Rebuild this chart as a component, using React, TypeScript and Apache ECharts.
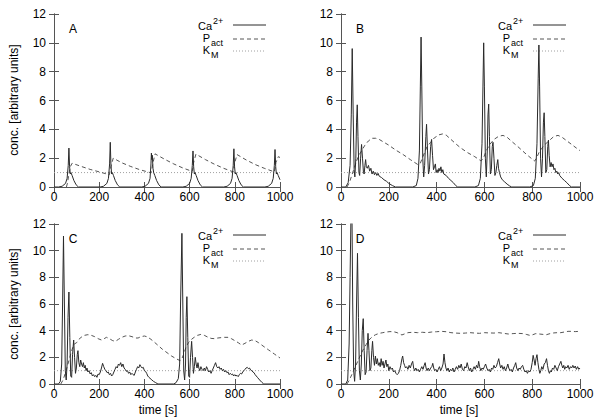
import React, { useEffect, useRef } from "react";
import * as echarts from "echarts";

const FONT = "Liberation Sans, Arial, Helvetica, sans-serif";

const xTicks = [0, 200, 400, 600, 800, 1000];
const yTicks = [0, 2, 4, 6, 8, 10, 12];
const panelNames = ["A", "B", "C", "D"];
const legendNames = ["Ca", "P", "K"];
const legendScripts = ["2+", "act", "M"];
const yAxisTitle = "conc. [arbitrary units]";
const xAxisTitle = "time [s]";

const kmLevel = [[0, 1], [1000, 1]];

const caA = [
  [0, 0], [20, 0], [36, 0.05], [51, 0.25], [58, 0.6], [63, 1.5], [66, 2.7], [69, 1.4], [72, 0.9], [75, 1.0], [80, 0.8], [88, 0.45], [98, 0.15], [108, 0],
  [204, 0], [219, 0.05], [234, 0.25], [241, 0.6], [246, 1.6], [249, 3.1], [252, 1.5], [255, 0.9], [258, 1.0], [263, 0.8], [271, 0.45], [281, 0.15], [291, 0],
  [388, 0], [403, 0.05], [418, 0.25], [425, 0.6], [429, 1.6], [431, 2.35], [433, 1.9], [435, 2.2], [438, 1.3], [441, 1.0], [446, 0.8], [454, 0.45], [464, 0.15], [474, 0],
  [570, 0], [585, 0.05], [600, 0.25], [607, 0.6], [612, 1.5], [615, 2.5], [618, 1.4], [621, 0.9], [624, 1.0], [629, 0.8], [637, 0.45], [647, 0.15], [657, 0],
  [751, 0], [766, 0.05], [781, 0.25], [788, 0.6], [793, 1.5], [796, 2.65], [799, 1.4], [802, 0.9], [805, 1.0], [810, 0.8], [818, 0.45], [828, 0.15], [838, 0],
  [933, 0], [948, 0.05], [963, 0.25], [970, 0.6], [975, 1.5], [978, 2.6], [981, 1.4], [984, 0.9], [987, 1.0], [992, 0.8], [1000, 0.5],
];
const pactA = [
  [55, 0], [60, 0.3], [66, 0.9], [72, 1.4], [80, 1.65], [120, 1.43], [160, 1.22], [200, 1.05], [245, 0.85],
  [252, 1.4], [262, 2.0], [300, 1.68], [340, 1.42], [380, 1.2], [430, 0.98],
  [437, 1.6], [447, 2.3], [490, 1.92], [530, 1.6], [570, 1.32], [612, 1.08],
  [618, 1.7], [628, 2.28], [670, 1.9], [710, 1.58], [750, 1.3], [793, 1.05],
  [800, 1.7], [810, 2.25], [850, 1.88], [890, 1.56], [930, 1.3], [975, 1.05],
  [982, 1.7], [992, 2.1], [1000, 2.05],
];

const caB = [
  [0, 0], [20, 0], [30, 0.3], [38, 1.5], [43, 5], [47, 9.6], [51, 5], [55, 1.2], [58, 0.7], [62, 2], [65, 4.5], [68, 5.7], [71, 3.5], [75, 1.0], [78, 0.8], [82, 2], [86, 2.95], [90, 2.0], [94, 1.0], [97, 0.9], [100, 1.5], [103, 1.9], [106, 1.4], [110, 1.3], [115, 1.5], [120, 1.1], [125, 1.3], [130, 0.9], [135, 1.1], [140, 0.85], [145, 1.0], [150, 0.8], [155, 0.95], [160, 0.75], [170, 0.65], [180, 0.5], [190, 0.4], [200, 0.25], [215, 0.1], [228, 0],
  [300, 0], [315, 0.1], [322, 0.6], [328, 2.5], [332, 7], [335, 10.4], [338, 7], [342, 2], [346, 0.7], [350, 1.5], [355, 3.5], [358, 4.35], [362, 2.5], [366, 0.9], [370, 1.2], [375, 2.8], [379, 3.3], [383, 2.2], [387, 1.2], [391, 1.4], [395, 1.6], [398, 1.0], [402, 1.2], [406, 1.0], [410, 1.3], [414, 1.1], [418, 1.4], [422, 1.0], [426, 1.2], [430, 0.9], [440, 0.8], [450, 0.6], [460, 0.45], [470, 0.3], [480, 0.1], [488, 0],
  [560, 0], [575, 0.1], [583, 0.6], [590, 3], [594, 7], [597, 10], [600, 7], [604, 2], [608, 0.7], [612, 2.5], [615, 5], [618, 5.75], [621, 3.5], [625, 0.9], [629, 1.2], [633, 2.8], [636, 3.1], [640, 2], [644, 0.8], [648, 1.0], [652, 1.5], [656, 1.9], [659, 1.3], [663, 1.0], [668, 0.7], [675, 0.5], [685, 0.35], [695, 0.2], [705, 0.08], [714, 0],
  [790, 0], [805, 0.1], [813, 0.6], [820, 3], [825, 7.5], [828, 9.85], [831, 7], [835, 2], [839, 0.7], [843, 2], [847, 4.5], [850, 5.15], [853, 3.5], [857, 1.0], [861, 1.2], [865, 2.8], [868, 3.25], [871, 2.2], [875, 1.4], [879, 1.7], [883, 1.4], [887, 1.6], [891, 1.2], [895, 1.3], [899, 1.0], [903, 1.1], [907, 0.9], [911, 1.0], [915, 0.8], [925, 0.6], [935, 0.45], [945, 0.3], [955, 0.12], [964, 0], [1000, 0],
];
const pactB = [
  [25, 0], [35, 0.3], [45, 0.8], [55, 1.3], [65, 1.8], [75, 2.2], [86, 2.5], [100, 2.9], [115, 3.2], [130, 3.38], [145, 3.38], [160, 3.3], [180, 3.1], [200, 2.9], [230, 2.55], [260, 2.25], [290, 1.9], [322, 1.55],
  [332, 1.65], [340, 2.0], [350, 2.4], [360, 2.8], [375, 3.1], [390, 3.4], [410, 3.62], [425, 3.68], [440, 3.6], [460, 3.3], [480, 3.0], [500, 2.72], [530, 2.38], [560, 2.1], [585, 1.82],
  [595, 1.95], [605, 2.4], [620, 2.9], [640, 3.3], [660, 3.52], [678, 3.58], [695, 3.45], [715, 3.15], [740, 2.8], [770, 2.35], [795, 2.0], [810, 1.8],
  [818, 2.0], [830, 2.45], [850, 2.9], [870, 3.2], [890, 3.5], [908, 3.58], [925, 3.45], [945, 3.2], [965, 2.95], [985, 2.7], [1000, 2.52],
];

const caC = [
  [0, 0], [20, 0], [28, 0.2], [34, 1.5], [38, 6], [42, 11.1], [46, 6], [50, 1], [54, 0.3], [58, 1.5], [62, 5], [66, 6.9], [70, 3.5], [74, 0.6], [78, 0.5], [82, 2.2], [87, 3.3], [91, 2], [95, 0.8], [99, 1.2], [103, 2.2], [106, 2.5], [110, 1.6], [114, 1.3], [118, 1.8], [122, 1.5], [126, 1.3], [130, 1.6], [134, 1.2], [138, 1.4], [142, 1.0], [146, 1.2], [150, 0.9], [155, 1.0], [160, 0.75], [165, 0.85], [170, 0.6], [175, 0.7], [180, 0.55], [185, 0.65], [190, 0.5], [195, 0.75], [200, 0.7], [205, 0.9], [210, 1.2], [215, 1.55], [220, 1.3], [225, 1.1], [230, 1.0], [235, 0.85], [240, 0.9], [245, 0.7], [250, 0.8], [255, 0.6], [260, 0.7], [265, 0.9], [270, 1.1], [275, 1.3], [280, 1.2], [285, 1.5], [290, 1.4], [295, 1.6], [300, 1.3], [305, 1.5], [310, 1.2], [315, 1.1], [320, 0.95], [325, 1.0], [330, 0.8], [335, 0.9], [340, 0.7], [345, 0.8], [350, 0.7], [355, 0.65], [360, 0.9], [365, 1.1], [370, 1.3], [375, 1.2], [380, 1.45], [385, 1.3], [390, 1.2], [395, 1.25], [400, 1.0], [405, 0.95], [410, 0.8], [415, 0.6], [420, 0.5], [430, 0.35], [440, 0.2], [450, 0.1], [460, 0],
  [530, 0], [540, 0.1], [550, 0.4], [556, 1.5], [560, 6], [566, 11.3], [570, 6], [574, 1], [578, 0.3], [582, 1.5], [585, 5], [588, 6.55], [592, 3.5], [596, 0.6], [600, 0.5], [604, 2], [609, 3.2], [613, 2], [617, 0.8], [621, 1.3], [625, 2.0], [629, 1.5], [633, 1.2], [637, 1.6], [641, 1.2], [645, 1.0], [650, 1.3], [655, 1.1], [660, 1.0], [665, 1.2], [670, 1.0], [675, 1.3], [680, 1.1], [685, 0.9], [690, 1.0], [695, 0.8], [700, 1.0], [705, 1.2], [710, 1.4], [715, 1.6], [720, 1.3], [725, 1.2], [730, 1.3], [735, 1.1], [740, 1.2], [745, 1.0], [750, 1.1], [755, 0.9], [760, 1.0], [765, 0.85], [770, 0.9], [775, 0.7], [780, 0.8], [785, 0.7], [790, 0.75], [795, 0.6], [800, 0.7], [805, 0.6], [810, 0.65], [815, 0.55], [820, 0.7], [825, 0.8], [830, 0.75], [835, 0.9], [840, 1.0], [845, 1.1], [850, 1.2], [855, 1.25], [860, 1.15], [865, 1.2], [870, 1.05], [875, 1.0], [880, 0.9], [885, 0.85], [890, 0.7], [895, 0.6], [900, 0.5], [910, 0.3], [920, 0.12], [928, 0], [1000, 0],
];
const pactC = [
  [30, 0], [40, 0.3], [50, 0.8], [60, 1.4], [70, 2.0], [80, 2.6], [90, 3.0], [100, 3.1], [110, 3.35], [120, 3.5], [135, 3.65], [150, 3.7], [165, 3.65], [180, 3.55], [195, 3.4], [210, 3.3], [222, 3.4], [232, 3.5], [245, 3.4], [260, 3.25], [272, 3.2], [285, 3.35], [300, 3.5], [315, 3.6], [330, 3.62], [345, 3.55], [360, 3.45], [372, 3.45], [385, 3.55], [400, 3.6], [410, 3.55], [425, 3.4], [440, 3.2], [460, 2.9], [480, 2.6], [500, 2.35], [520, 2.1], [540, 1.9], [558, 1.75],
  [565, 1.85], [575, 2.3], [585, 2.8], [595, 3.1], [605, 3.3], [620, 3.5], [635, 3.65], [650, 3.72], [665, 3.65], [680, 3.52], [695, 3.42], [710, 3.4], [725, 3.45], [740, 3.48], [755, 3.5], [770, 3.5], [785, 3.4], [800, 3.25], [815, 3.1], [830, 2.92], [845, 3.05], [860, 3.2], [875, 3.3], [890, 3.25], [905, 3.1], [925, 2.85], [950, 2.55], [975, 2.25], [1000, 1.95],
];

const caD = [
  [0, 0], [20, 0], [28, 0.3], [34, 3], [38, 8], [42, 13], [46, 12.5], [49, 6], [53, 1], [57, 0.2], [61, 1.5], [65, 6], [69, 9.8], [73, 5], [77, 1], [81, 0.3], [85, 1.5], [89, 4], [93, 4.9], [97, 2.5], [101, 0.7], [105, 0.9], [109, 2.5], [113, 3.8], [117, 2.5], [121, 1.0], [125, 1.2], [129, 2.5], [132, 3.2], [136, 2.0], [140, 1.4], [144, 2.1], [148, 1.5], [152, 1.9], [156, 1.4], [160, 1.6], [164, 1.3], [168, 1.9], [172, 1.4], [176, 1.7], [180, 1.2], [184, 1.5], [188, 1.8], [192, 1.3], [196, 1.5], [200, 1.0], [205, 1.3], [210, 1.1], [215, 1.2], [220, 0.9], [225, 1.0], [230, 0.8], [235, 0.7], [240, 0.8], [245, 1.0], [250, 1.4], [255, 1.9], [258, 2.1], [262, 1.6], [266, 1.4], [270, 1.2], [275, 1.3], [280, 1.1], [285, 1.4], [290, 1.2], [295, 1.5], [300, 1.7], [304, 1.2], [308, 1.0], [313, 1.2], [318, 1.0], [323, 1.1], [328, 0.9], [333, 1.1], [338, 1.3], [343, 1.1], [348, 1.4], [352, 1.6], [356, 1.2], [360, 1.0], [365, 1.2], [370, 1.0], [375, 1.2], [380, 1.3], [384, 1.55], [388, 1.2], [392, 1.0], [397, 1.1], [402, 0.9], [407, 1.1], [412, 1.3], [417, 1.0], [422, 1.2], [427, 1.5], [431, 2.25], [435, 1.6], [439, 1.2], [443, 1.0], [448, 1.2], [453, 0.9], [458, 1.1], [463, 1.0], [468, 1.2], [473, 0.9], [478, 1.1], [483, 1.3], [488, 1.1], [493, 1.4], [498, 1.2], [503, 1.5], [508, 1.1], [513, 1.0], [518, 1.3], [523, 1.2], [528, 1.6], [532, 1.3], [537, 1.0], [542, 1.2], [547, 0.9], [552, 1.1], [557, 1.3], [562, 1.1], [567, 1.4], [572, 1.2], [576, 1.7], [580, 1.3], [585, 1.0], [590, 1.2], [595, 1.1], [600, 1.3], [605, 1.5], [610, 1.2], [615, 1.0], [620, 1.1], [625, 0.9], [630, 1.2], [635, 1.1], [640, 1.4], [645, 1.2], [650, 1.3], [655, 1.6], [660, 1.9], [664, 1.5], [668, 1.2], [673, 1.4], [678, 1.1], [683, 1.3], [688, 1.0], [693, 1.2], [698, 1.5], [702, 1.2], [707, 1.0], [712, 1.1], [717, 0.9], [722, 1.2], [727, 1.4], [731, 1.6], [735, 1.2], [740, 1.0], [745, 1.2], [750, 1.1], [755, 1.3], [760, 1.4], [765, 1.1], [770, 0.9], [775, 1.0], [780, 0.8], [785, 1.0], [790, 0.9], [795, 1.1], [800, 1.6], [804, 2.15], [808, 1.8], [812, 1.4], [816, 1.9], [820, 2.2], [824, 1.6], [828, 1.1], [832, 0.8], [836, 1.0], [840, 1.3], [845, 1.1], [850, 1.5], [855, 1.6], [860, 1.9], [864, 1.4], [868, 1.0], [872, 0.8], [876, 1.0], [880, 0.9], [885, 1.2], [890, 1.1], [895, 1.4], [900, 1.2], [905, 1.0], [910, 1.3], [915, 1.5], [920, 1.7], [924, 1.4], [928, 1.2], [932, 1.4], [936, 1.1], [940, 1.3], [945, 1.2], [950, 1.4], [955, 1.1], [960, 1.3], [965, 1.2], [970, 1.4], [975, 1.2], [980, 1.35], [985, 1.1], [990, 1.3], [995, 1.1], [1000, 1.2],
];
const pactD = [
  [25, 0], [35, 0.3], [45, 0.7], [55, 1.1], [65, 1.5], [75, 1.9], [85, 2.3], [95, 2.65], [105, 2.95], [115, 3.25], [125, 3.45], [135, 3.6], [145, 3.7], [160, 3.8], [175, 3.85], [190, 3.9], [205, 3.93], [220, 3.92], [235, 3.85], [245, 3.75], [255, 3.68], [265, 3.75], [280, 3.85], [300, 3.88], [320, 3.85], [340, 3.88], [360, 3.85], [380, 3.9], [400, 3.92], [420, 3.95], [440, 3.92], [460, 3.85], [480, 3.82], [500, 3.8], [520, 3.82], [540, 3.85], [560, 3.82], [580, 3.8], [600, 3.85], [620, 3.83], [640, 3.82], [660, 3.85], [680, 3.8], [700, 3.75], [720, 3.78], [740, 3.8], [760, 3.78], [775, 3.72], [790, 3.65], [800, 3.68], [815, 3.78], [830, 3.75], [845, 3.72], [860, 3.7], [875, 3.78], [890, 3.83], [905, 3.85], [920, 3.85], [935, 3.9], [950, 3.95], [965, 3.95], [980, 3.93], [1000, 3.95],
];

const caSets = [caA, caB, caC, caD];
const pactSets = [pactA, pactB, pactC, pactD];

// layout (pixels)
const grids = [
  { left: 54, top: 14, width: 226, height: 173 },
  { left: 341, top: 14, width: 239, height: 173 },
  { left: 54, top: 224, width: 226, height: 160 },
  { left: 341, top: 224, width: 239, height: 160 },
];

const FRAME = "#555";
const CA_COLOR = "#2a2a2a";
const PACT_COLOR = "#555";
const KM_COLOR = "#a0a0a0";

function buildOption() {
  const xAxis: any[] = [];
  const yAxis: any[] = [];
  const series: any[] = [];
  const graphic: any[] = [];

  grids.forEach((g, i) => {
    const common = {
      gridIndex: i,
      type: "value",
      axisLine: { show: true, lineStyle: { color: FRAME, width: 1 } },
      axisTick: { show: true, inside: true, length: 5, lineStyle: { color: FRAME } },
      splitLine: { show: false },
    };
    xAxis.push({
      ...common, position: "bottom", min: xTicks[0], max: xTicks[xTicks.length - 1], interval: 200,
      axisLabel: { color: "#000", fontSize: 12, fontFamily: FONT, margin: 4, formatter: (v: number) => String(v) },
    });
    xAxis.push({
      ...common, position: "top", min: xTicks[0], max: xTicks[xTicks.length - 1], interval: 200,
      axisLabel: { show: false },
    });
    yAxis.push({
      ...common, position: "left", min: yTicks[0], max: yTicks[yTicks.length - 1], interval: 2,
      axisLabel: { color: "#000", fontSize: 12, fontFamily: FONT, margin: 8, formatter: (v: number) => String(v) },
    });
    yAxis.push({
      ...common, position: "right", min: yTicks[0], max: yTicks[yTicks.length - 1], interval: 2,
      axisLabel: { show: false },
    });

    const xi = i * 2;
    const yi = i * 2;
    series.push({
      type: "line", name: "Ca", xAxisIndex: xi, yAxisIndex: yi, data: caSets[i], showSymbol: false,
      lineStyle: { color: CA_COLOR, width: 1 }, clip: true, z: 3,
    });
    series.push({
      type: "line", name: "Pact", xAxisIndex: xi, yAxisIndex: yi, data: pactSets[i], showSymbol: false,
      lineStyle: { color: PACT_COLOR, width: 1, type: [4, 3] }, clip: true, z: 2,
    });
    series.push({
      type: "line", name: "KM", xAxisIndex: xi, yAxisIndex: yi, data: kmLevel, showSymbol: false,
      lineStyle: { color: KM_COLOR, width: 1, type: [1, 2] }, clip: true, z: 1,
    });

    const right = g.left + g.width;
    const top = g.top;
    // panel letter
    graphic.push({
      type: "text", x: g.left + 19, y: top + 15,
      style: { text: panelNames[i], fontSize: 12, fontFamily: FONT, fill: "#000", align: "center", verticalAlign: "middle" },
    });
    // legend
    const rows = [
      { dy: -5, ly: 11, dash: null as any, color: CA_COLOR, mainX: right - 68, subX: right - 67 },
      { dy: 5, ly: 25, dash: [4, 3], color: PACT_COLOR, mainX: right - 70, subX: right - 69 },
      { dy: 5, ly: 37, dash: [1, 2], color: KM_COLOR, mainX: right - 70, subX: right - 69 },
    ];
    const textY = [top + 12, top + 24, top + 36];
    rows.forEach((r, k) => {
      graphic.push({
        type: "text", x: r.mainX, y: textY[k],
        style: { text: legendNames[k], fontSize: 11, lineHeight: 9, fontFamily: FONT, fill: "#000", align: "right", verticalAlign: "middle" },
      });
      graphic.push({
        type: "text", x: r.subX, y: textY[k] + r.dy,
        style: { text: legendScripts[k], fontSize: 9, lineHeight: 6, fontFamily: FONT, fill: "#000", align: "left", verticalAlign: "middle" },
      });
      graphic.push({
        type: "line", shape: { x1: right - 47, y1: top + r.ly, x2: right - 14, y2: top + r.ly },
        style: { stroke: r.color, lineWidth: 1, lineDash: r.dash || undefined },
      });
    });
  });

  // axis titles
  graphic.push({
    type: "text", x: 14, y: 100, rotation: Math.PI / 2,
    style: { text: yAxisTitle, fontSize: 12, fontFamily: FONT, fill: "#000", align: "center", verticalAlign: "middle" },
  });
  graphic.push({
    type: "text", x: 14, y: 304, rotation: Math.PI / 2,
    style: { text: yAxisTitle, fontSize: 12, fontFamily: FONT, fill: "#000", align: "center", verticalAlign: "middle" },
  });
  graphic.push({
    type: "text", x: 158, y: 410,
    style: { text: xAxisTitle, fontSize: 12, fontFamily: FONT, fill: "#000", align: "center", verticalAlign: "middle" },
  });
  graphic.push({
    type: "text", x: 459, y: 410,
    style: { text: xAxisTitle, fontSize: 12, fontFamily: FONT, fill: "#000", align: "center", verticalAlign: "middle" },
  });

  return {
    animation: false,
    backgroundColor: "#fff",
    textStyle: { fontFamily: FONT },
    grid: grids.map((g) => ({ ...g, containLabel: false })),
    xAxis,
    yAxis,
    series,
    graphic,
  };
}

export default function App() {
  const ref = useRef<HTMLDivElement>(null);
  useEffect(() => {
    if (!ref.current) return;
    const chart = echarts.init(ref.current, undefined, { renderer: "svg" });
    chart.setOption(buildOption() as any);
    return () => chart.dispose();
  }, []);
  return (
    <div
      ref={ref}
      style={{ position: "absolute", left: 0, top: 0, width: 600, height: 420, background: "#fff" }}
    />
  );
}
